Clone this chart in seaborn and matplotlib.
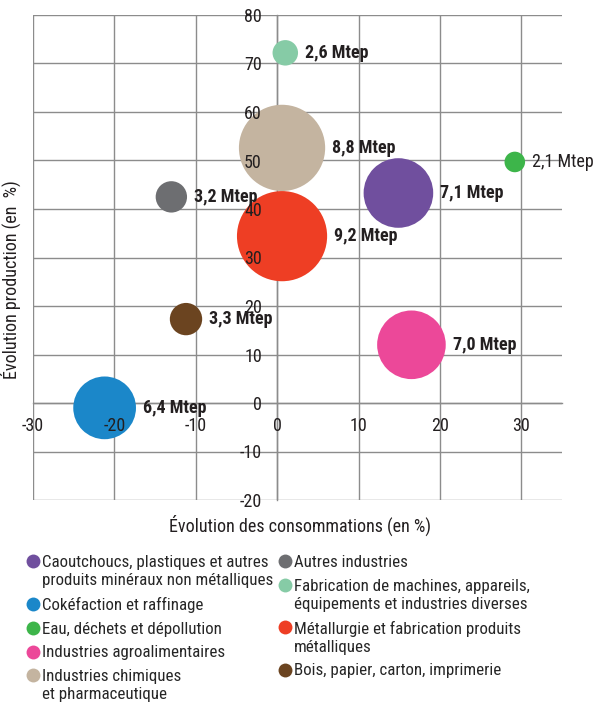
import numpy as np
import pandas as pd
import seaborn as sns
import matplotlib.pyplot as plt
from matplotlib import font_manager
from matplotlib.lines import Line2D
from matplotlib.legend_handler import HandlerLine2D
from matplotlib.ticker import MultipleLocator

# données
secteurs = ["Caoutchoucs, plastiques et autres\nproduits minéraux non métalliques",
            "Cokéfaction et raffinage",
            "Eau, déchets et dépollution",
            "Industries agroalimentaires",
            "Industries chimiques\net pharmaceutique",
            "Autres industries",
            "Fabrication de machines, appareils,\néquipements et industries diverses",
            "Métallurgie et fabrication produits\nmétalliques",
            "Bois, papier, carton, imprimerie"]
conso = [14.9, -21.2, 29.2, 16.5, 0.6, -13.0, 1.0, 0.6, -11.2]
prod = [43.3, -1.0, 49.7, 12.0, 52.6, 42.5, 72.2, 34.4, 17.3]
mtep = [7.1, 6.4, 2.1, 7.0, 8.8, 3.2, 2.6, 9.2, 3.3]
etiquettes = ["7,1 Mtep", "6,4 Mtep", "2,1 Mtep", "7,0 Mtep", "8,8 Mtep",
              "3,2 Mtep", "2,6 Mtep", "9,2 Mtep", "3,3 Mtep"]
couleurs = ["#704f9e", "#1b87c9", "#3db54a", "#ec4899", "#c4b4a0",
            "#6d6e71", "#86cba6", "#ee3e24", "#6b4420"]

df = pd.DataFrame({'secteur': secteurs, 'conso': conso, 'prod': prod, 'mtep': mtep})
df['mtep2'] = df['mtep'] ** 2

sns.set_style('white')
dispo = {f.name for f in font_manager.fontManager.ttflist}
police = 'DejaVu Sans'
for nom in ['Roboto Condensed', 'Liberation Sans Narrow', 'DejaVu Sans Condensed', 'Roboto']:
    if nom in dispo:
        police = nom
        break
plt.rcParams['font.family'] = [police, 'DejaVu Sans']
plt.rcParams['axes.unicode_minus'] = False

grid_col = '#8c8c8c'
txt_col = '#231f20'
k = 49.8  # s (pt^2) par Mtep^2
fs = 13
fs_leg = 12.2
interligne = 1.25


class HandlerHaut(HandlerLine2D):
    # marqueur aligné sur la première ligne d'un libellé sur deux lignes
    def create_artists(self, legend, orig_handle, xdescent, ydescent, width, height,
                       fontsize, trans):
        arts = super().create_artists(legend, orig_handle, xdescent, ydescent, width,
                                      height, fontsize, trans)
        for a in arts:
            a.set_ydata(np.asarray(a.get_ydata()) + interligne / 2 * fontsize)
        return arts


fig = plt.figure(figsize=(5.95, 7.03), dpi=100)
pos = [33 / 595, 1 - 500 / 703, 529 / 595, 485 / 703]
ax = fig.add_axes(pos)
ax.set_axisbelow(True)

sns.scatterplot(data=df, x='conso', y='prod', hue='secteur', hue_order=secteurs,
                palette=couleurs, size='mtep2', sizes=(0, k * df['mtep2'].max()),
                size_norm=(0, df['mtep2'].max()), linewidth=0, alpha=1,
                legend=False, ax=ax, zorder=3)

ax.set_xlim(-30, 35)
ax.set_ylim(-20, 80)
ax.xaxis.set_major_locator(MultipleLocator(10))
ax.yaxis.set_major_locator(MultipleLocator(10))
ax.xaxis.set_minor_locator(MultipleLocator(2))
ax.yaxis.set_minor_locator(MultipleLocator(2))
ax.grid(True, which='major', color=grid_col, linewidth=1)
ax.spines['left'].set_position(('data', 0))
ax.spines['bottom'].set_position(('data', 0))
ax.spines['top'].set_visible(False)
ax.spines['right'].set_visible(False)
for s in ['left', 'bottom']:
    ax.spines[s].set_color(grid_col)
    ax.spines[s].set_linewidth(1)
ax.tick_params(axis='y', which='both', direction='out', color=grid_col, labelleft=False)
ax.tick_params(axis='x', which='both', direction='in', color=grid_col, labelbottom=False)
ax.tick_params(which='major', length=5, width=1)
ax.tick_params(which='minor', length=3, width=0.8)
ax.set_xlabel('')
ax.set_ylabel('')

# étiquettes de graduation au-dessus des bulles
ax2 = fig.add_axes(pos, sharex=ax, sharey=ax)
ax2.patch.set_visible(False)
ax2.grid(False)
ax2.spines['left'].set_position(('data', 0))
ax2.spines['bottom'].set_position(('data', 0))
for s in ax2.spines.values():
    s.set_visible(False)
ax2.tick_params(which='both', length=0, labelsize=fs, labelcolor=txt_col)
ax2.tick_params(axis='y', pad=11)
ax2.tick_params(axis='x', pad=10)
ax2.set_zorder(ax.get_zorder() + 1)

for i in range(len(df)):
    r = np.sqrt(k) * mtep[i] / 2
    ax2.annotate(etiquettes[i], (conso[i], prod[i]), xytext=(r + 5, 0),
                 textcoords='offset points', ha='left', va='center', fontsize=fs,
                 fontweight='normal' if mtep[i] < 2.5 else 'bold', color=txt_col)

ax2.set_xlabel('Évolution des consommations (en %)', fontsize=fs, color=txt_col)
ax2.xaxis.set_label_coords(0.505, -0.03)
ax2.set_ylabel('Évolution production (en  %)', fontsize=fs, color=txt_col)
ax2.yaxis.set_label_coords(-0.022, 0.454)

handles = [Line2D([], [], marker='o', linestyle='', markersize=10,
                  markerfacecolor=c, markeredgewidth=0) for c in couleurs]
hmap = {h: HandlerHaut() for h, lab in zip(handles, secteurs) if '\n' in lab}
leg_kw = dict(loc='upper left', frameon=False, fontsize=fs_leg, handlelength=0.7,
              handletextpad=0.2, labelspacing=0.52, borderpad=0, borderaxespad=0,
              handler_map=hmap)
leg1 = fig.legend(handles[:5], secteurs[:5], bbox_to_anchor=(27 / 595, 1 - 555 / 703), **leg_kw)
leg2 = fig.legend(handles[5:], secteurs[5:], bbox_to_anchor=(279 / 595, 1 - 555 / 703), **leg_kw)
for leg in (leg1, leg2):
    for t in leg.get_texts():
        t.set_linespacing(interligne)

plt.savefig('out.png', dpi=100)
